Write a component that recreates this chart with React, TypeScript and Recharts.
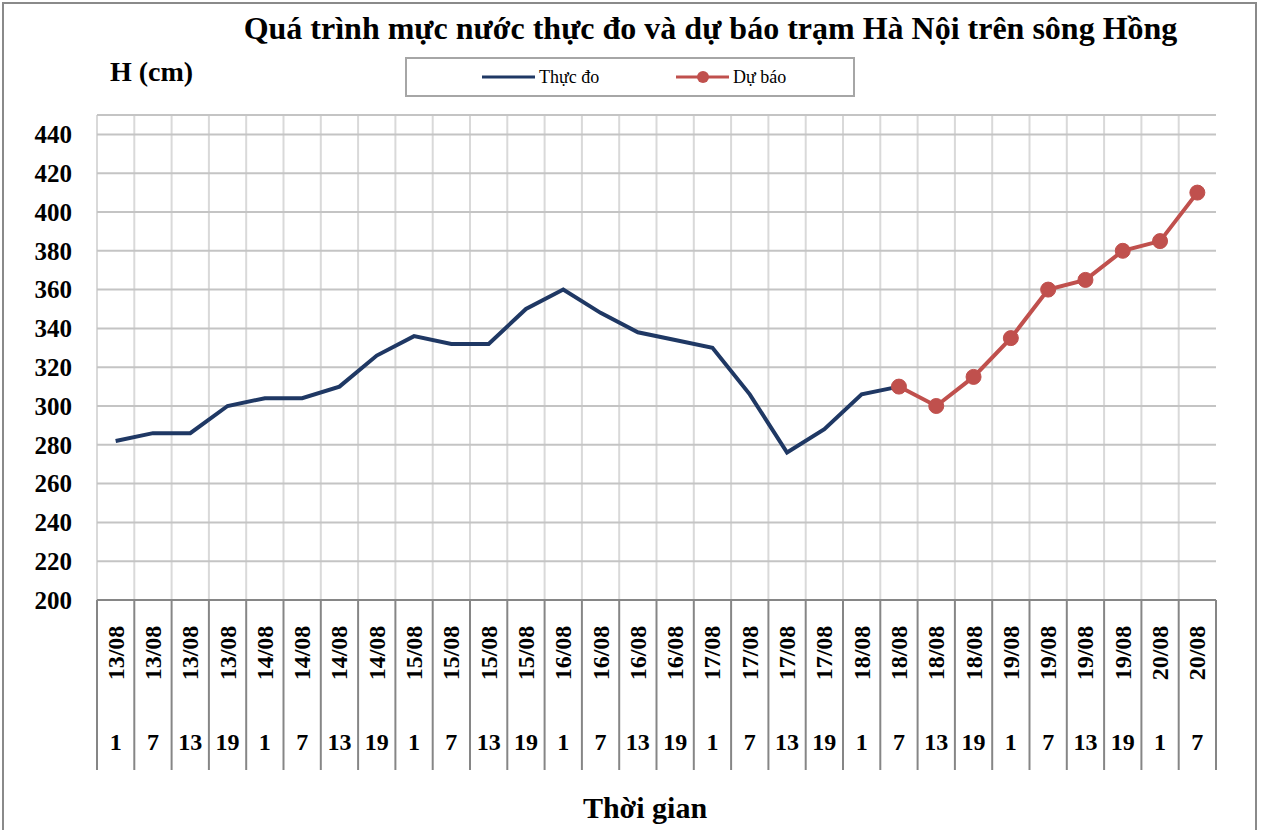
import React from 'react';
import { LineChart, Line, XAxis, YAxis, CartesianGrid } from 'recharts';

// categories: date + hour (two-level axis)
const dates = [
  '13/08', '13/08', '13/08', '13/08',
  '14/08', '14/08', '14/08', '14/08',
  '15/08', '15/08', '15/08', '15/08',
  '16/08', '16/08', '16/08', '16/08',
  '17/08', '17/08', '17/08', '17/08',
  '18/08', '18/08', '18/08', '18/08',
  '19/08', '19/08', '19/08', '19/08',
  '20/08', '20/08',
];
const hours = [1, 7, 13, 19, 1, 7, 13, 19, 1, 7, 13, 19, 1, 7, 13, 19, 1, 7, 13, 19, 1, 7, 13, 19, 1, 7, 13, 19, 1, 7];

// Thực đo
const observed = [
  282, 286, 286, 300, 304, 304, 310, 326, 336, 332, 332, 350, 360, 348, 338, 334,
  330, 306, 276, 288, 306, 310, null, null, null, null, null, null, null, null,
];
// Dự báo
const forecast = [
  null, null, null, null, null, null, null, null, null, null, null, null, null, null, null, null,
  null, null, null, null, null, 310, 300, 315, 335, 360, 365, 380, 385, 410,
];

const yTicks = [200, 220, 240, 260, 280, 300, 320, 340, 360, 380, 400, 420, 440];

const data = dates.map((d, i) => ({
  cat: `${d}|${hours[i]}`,
  date: d,
  hour: hours[i],
  thucDo: observed[i],
  duBao: forecast[i],
}));

const W = 1262;
const H = 830;
const PLOT_LEFT = 97;
const PLOT_RIGHT = 1216;
const PLOT_TOP = 115;
const PLOT_BOTTOM = 600;
const N = data.length;
const BAND = (PLOT_RIGHT - PLOT_LEFT) / N;

const FONT = '"Times New Roman", "Liberation Serif", serif';

const CategoryTick = (props: any) => {
  const { x, y, index } = props;
  const row = data[index];
  const left = x - BAND / 2;
  const right = x + BAND / 2;
  return (
    <g>
      <line x1={left} x2={left} y1={y} y2={y + 170} stroke="#868686" strokeWidth={2} />
      {index === N - 1 && (
        <line x1={right} x2={right} y1={y} y2={y + 170} stroke="#868686" strokeWidth={2} />
      )}
      <text
        transform={`translate(${x + 8},${y + 53}) rotate(-90)`}
        textAnchor="middle"
        fontFamily={FONT}
        fontWeight="bold"
        fontSize={24}
        fill="#000"
      >
        {row.date}
      </text>
      <text x={x} y={y + 150} textAnchor="middle" fontFamily={FONT} fontWeight="bold" fontSize={24} fill="#000">
        {row.hour}
      </text>
    </g>
  );
};

export default function App() {
  return (
    <div style={{ position: 'absolute', left: 0, top: 0, width: W, height: H, overflow: 'hidden', background: '#fff', fontFamily: FONT }}>
      <div
        style={{
          position: 'absolute', left: 2, top: 2, width: 1255, height: 860,
          border: '2px solid #8a8a8a', boxSizing: 'border-box',
        }}
      />
      <div style={{ position: 'absolute', left: 0, top: 0 }}>
        <LineChart
          width={W}
          height={H}
          data={data}
          margin={{ top: PLOT_TOP, right: W - PLOT_RIGHT, bottom: 0, left: 0 }}
        >
          {/* vertical lines sit on the category boundaries, like Excel */}
          <CartesianGrid
            horizontal={false}
            stroke="#d9d9d9"
            strokeWidth={2}
            verticalCoordinatesGenerator={({ offset }: any) =>
              data.map((_, i) => offset.left + (i * offset.width) / N)
            }
          />
          <CartesianGrid vertical={false} stroke="#c4c4c4" strokeWidth={2} />
          <XAxis
            dataKey="cat"
            interval={0}
            height={H - PLOT_BOTTOM}
            padding={{ left: BAND / 2, right: BAND / 2 }}
            tickSize={0}
            tickMargin={0}
            tickLine={false}
            axisLine={{ stroke: '#868686', strokeWidth: 2 }}
            tick={<CategoryTick />}
          />
          <YAxis
            width={PLOT_LEFT}
            domain={[200, 450]}
            ticks={yTicks}
            allowDataOverflow
            axisLine={false}
            tickLine={false}
            tickSize={0}
            tickMargin={25}
            tick={{ fontFamily: FONT, fontWeight: 'bold', fontSize: 25, fill: '#000' }}
          />
          <Line
            dataKey="thucDo"
            stroke="#1f3864"
            strokeWidth={4}
            dot={false}
            isAnimationActive={false}
          />
          <Line
            dataKey="duBao"
            stroke="#c0504d"
            strokeWidth={4}
            dot={{ r: 7.5, fill: '#c0504d', stroke: '#c0504d', strokeWidth: 1 }}
            isAnimationActive={false}
          />
        </LineChart>
      </div>

      <div style={{ position: 'absolute', left: 0, width: 1421, top: 10, textAlign: 'center', fontWeight: 'bold', fontSize: 32, color: '#000', whiteSpace: 'nowrap' }}>
        Quá trình mực nước thực đo và dự báo trạm Hà Nội trên sông Hồng
      </div>
      <div style={{ position: 'absolute', left: 110, top: 56, fontWeight: 'bold', fontSize: 28, color: '#000' }}>
        H (cm)
      </div>

      <div
        style={{
          position: 'absolute', left: 405, top: 57, width: 450, height: 40,
          border: '2px solid #a6a6a6', boxSizing: 'border-box', background: '#fff',
        }}
      >
        <svg width={446} height={36} style={{ position: 'absolute', left: 0, top: 0 }}>
          <line x1={75} x2={128} y1={18} y2={18} stroke="#1f3864" strokeWidth={3} />
          <text x={132} y={24} fontFamily={FONT} fontSize={18} fill="#000">Thực đo</text>
          <line x1={269} x2={322} y1={18} y2={18} stroke="#c0504d" strokeWidth={3} />
          <circle cx={296} cy={18} r={6} fill="#c0504d" />
          <text x={326} y={24} fontFamily={FONT} fontSize={18} fill="#000">Dự báo</text>
        </svg>
      </div>

      <div style={{ position: 'absolute', left: 0, width: 1290, top: 791, textAlign: 'center', fontWeight: 'bold', fontSize: 30, color: '#000' }}>
        Thời gian
      </div>
    </div>
  );
}
